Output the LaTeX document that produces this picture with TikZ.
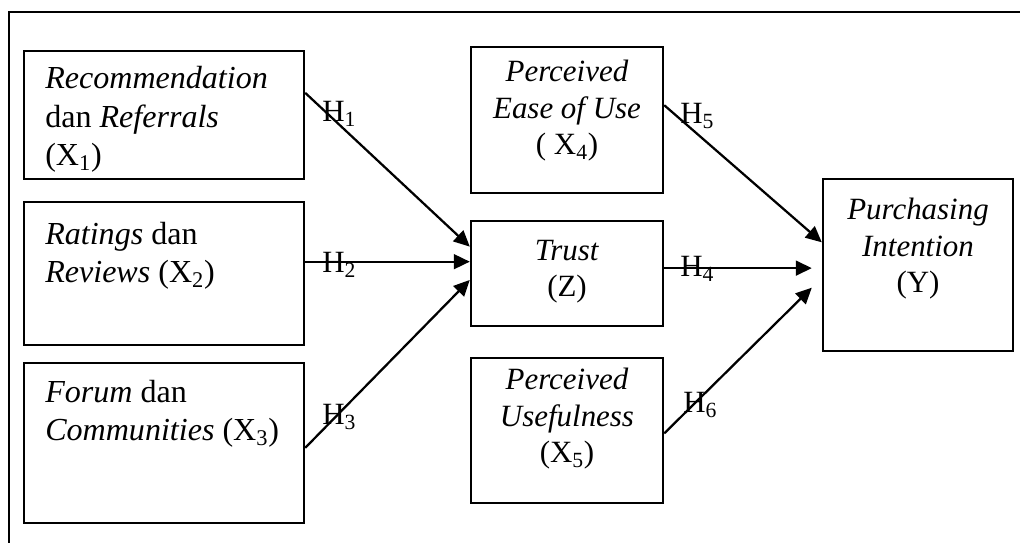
\documentclass[tikz,border=0pt]{standalone}
\usepackage{fontspec}
\setmainfont{Liberation Serif}
\usepackage{tikz}
\usetikzlibrary{calc}
\usetikzlibrary{fit}
\usetikzlibrary{arrows.meta}
\tikzset{
  cell/.style={draw, line width=1.7pt, inner sep=0pt},
  lefttext/.style={anchor=base west, align=left, inner sep=0pt, font=\fontsize{22.8}{27.6}\selectfont},
  midtext/.style={anchor=base, align=center, inner sep=0pt, font=\fontsize{22}{26}\selectfont},
  hyptext/.style={anchor=base west, inner sep=0pt, font=\fontsize{22}{26}\selectfont},
  arr/.style={line width=1.6pt, -{Triangle[length=0.4cm,width=0.37cm]}}
}
\newcommand{\varcell}[5]{\node[cell, fit={( #2 , #3 ) ( #4 , #5 )}] (#1) {};}
\newcommand{\lablleft}[4]{\node[lefttext] (#1) at ( #2 , #3 ) {#4};}
\newcommand{\lablmid}[4]{\node[midtext] (#1) at ( #2 , #3 ) {#4};}
\newcommand{\hyp}[4]{\node[hyptext] (#1) at ( #2 , #3 ) {H\textsubscript{#4}};}

\begin{document}
\begin{tikzpicture}[x=0.025cm, y=-0.025cm]
        \useasboundingbox (0,0) rectangle (1020,543);
        \draw[line width=1.7pt] (9,543) -- (9,12) -- (1020,12);

        % col 1
        \varcell{rec}{24}{51}{304}{179}
        \varcell{rat}{24}{202}{304}{345}
        \varcell{frm}{24}{363}{304}{523}
        \lablleft{trec}{45}{166}{\textit{Recommendation}\\dan \textit{Referrals}\\(X\textsubscript{1})}
        \lablleft{trat}{45}{283}{\textit{Ratings} dan\\\textit{Reviews} (X\textsubscript{2})}
        \lablleft{tfrm}{45}{441}{\textit{Forum} dan\\\textit{Communities} (X\textsubscript{3})}

        % col 2
        \varcell{peou}{471}{47}{663}{193}
        \varcell{trs}{471}{221}{663}{326}
        \varcell{pu}{471}{358}{663}{503}
        \lablmid{tpeou}{567}{155}{\textit{Perceived}\\\textit{Ease of Use}\\( X\textsubscript{4})}
        \lablmid{ttrs}{567}{297}{\textit{Trust}\\(Z)}
        \lablmid{tpu}{567}{463}{\textit{Perceived}\\\textit{Usefulness}\\(X\textsubscript{5})}

        % col 3
        \varcell{pi}{823}{179}{1013}{351}
        \lablmid{tpi}{918}{293}{\textit{Purchasing}\\\textit{Intention}\\(Y)}

        % arrows
        \draw[arr] ($(rec.north east)!0.33!(rec.south east)$) -- ($(trs.north west)!0.25!(trs.south west)$);
        \coordinate (e2) at ($(trs.north west)!0.39!(trs.south west)$);
        \draw[arr] (rat.east |- e2) -- (e2);
        \draw[arr] ($(frm.north east)!0.53!(frm.south east)$) -- ($(trs.north west)!0.56!(trs.south west)$);
        \draw[arr] ($(peou.north east)!0.40!(peou.south east)$) -- ($(pi.north west)!0.37!(pi.south west)$);
        \coordinate (s4) at ($(trs.north east)!0.45!(trs.south east)$);
        \draw[arr] (s4) -- ($(pi.west |- s4)+(-10,0)$);
        \draw[arr] ($(pu.north east)!0.52!(pu.south east)$) -- ($(pi.north west)!0.63!(pi.south west)+(-10,0)$);

        % labels
        \hyp{h1}{322}{122}{1}
        \hyp{h2}{322}{273}{2}
        \hyp{h3}{322}{425}{3}
        \hyp{h5}{680}{124}{5}
        \hyp{h4}{680}{277}{4}
        \hyp{h6}{683}{413}{6}
\end{tikzpicture}
\end{document}
